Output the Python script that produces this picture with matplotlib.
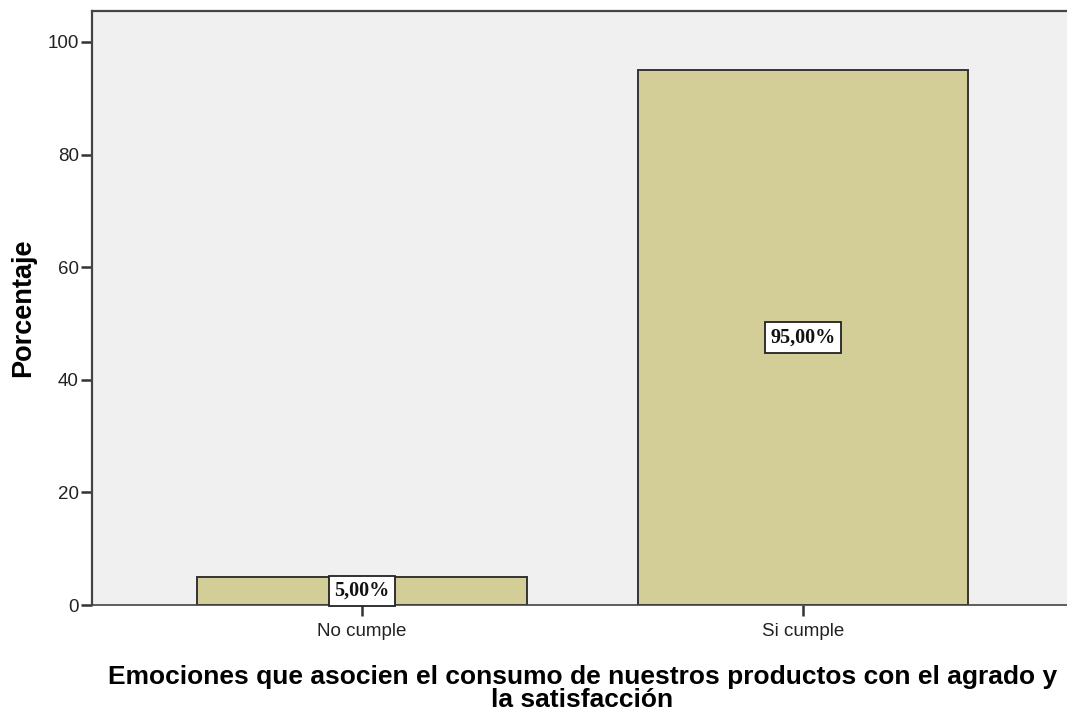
import os

os.environ.setdefault("MPLBACKEND", "Agg")
import matplotlib.pyplot as plt

categories = ["No cumple", "Si cumple"]
percentages = [5.0, 95.0]
bar_labels = ["5,00%", "95,00%"]
y_ticks = [0, 20, 40, 60, 80, 100]

x_title = "Emociones que asocien el consumo de nuestros productos con el agrado y\nla satisfacción"
y_title = "Porcentaje"

fig = plt.figure(figsize=(10.67, 7.12), dpi=100)
ax = fig.add_axes([92 / 1067, 107 / 712, 981 / 1067, 594 / 712])
ax.set_facecolor("#f0f0f0")

positions = list(range(len(categories)))
ax.bar(positions, percentages, width=0.75, color="#d3ce97", edgecolor="#333333", linewidth=1.4, zorder=2)

# value boxes sit in the middle of each bar
for pos, value, text in zip(positions, percentages, bar_labels):
    ax.text(pos, value / 2, text, ha="center", va="center", fontsize=14.5, fontweight="bold",
            family="Liberation Serif", color="#111111", zorder=3,
            bbox=dict(boxstyle="square,pad=0.26", facecolor="white", edgecolor="#222222", linewidth=1.3))

ax.set_xlim(-0.612, 1.612)
ax.set_ylim(0, 105.5)
ax.set_xticks(positions, categories)
ax.set_yticks(y_ticks)
ax.tick_params(axis="both", direction="out", length=8, width=1.8, color="#333333",
               labelsize=13.5, labelcolor="#222222", pad=1.5)
ax.tick_params(axis="x", pad=5)
for label in ax.get_xticklabels() + ax.get_yticklabels():
    label.set_family("Liberation Sans")

for side in ["left", "bottom", "top", "right"]:
    ax.spines[side].set_color("#444444")
ax.spines["left"].set_linewidth(1.6)
ax.spines["top"].set_linewidth(1.6)
ax.spines["bottom"].set_linewidth(1.2)

ax.set_xlabel(x_title, fontsize=19, fontweight="bold", family="Liberation Sans", labelpad=18, linespacing=0.95)
ax.set_ylabel(y_title, fontsize=19.5, fontweight="bold", family="Liberation Sans", labelpad=8)

fig.savefig("out.png", dpi=100)
